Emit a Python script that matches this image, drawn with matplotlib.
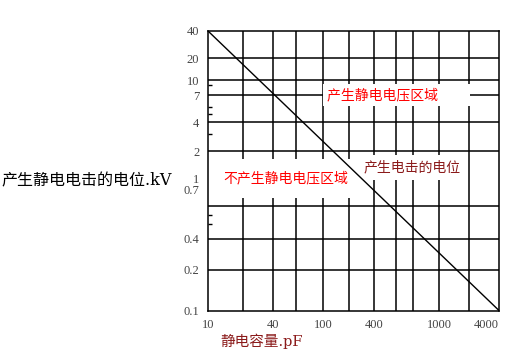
import numpy as np
import matplotlib
matplotlib.use('Agg')
import matplotlib.pyplot as plt
from matplotlib.ticker import FixedLocator, FixedFormatter, NullFormatter

# boundary line: capacitance (pF) vs. electrostatic shock potential (kV)
capacitance = [10, 6000]
voltage = [40, 0.1]

x_ticks = [10, 40, 100, 400, 1000, 4000]
x_tick_labels = ['10', '40', '100', '400', '1000', '4000']
x_grid = [20, 40, 60, 100, 200, 400, 600, 800, 1000, 2000]

y_ticks = [0.1, 0.2, 0.4, 0.7, 1, 2, 4, 7, 10, 20, 40]
y_tick_labels = ['0.1', '0.2', '0.4', '0.7', '1', '2', '4', '7', '10', '20', '40']
y_grid = [0.2, 0.4, 0.6, 2, 4, 7, 10, 20]
y_minor = [0.45, 0.5, 0.7, 1, 3, 4.5, 5.5, 9]

# the printed chart's axes are hand-ruled, not a true log scale:
# knots (value -> pixel in the original) define a piecewise log scale
x_knots = [10, 20, 40, 60, 100, 200, 400, 600, 800, 1000, 2000, 4000, 6000]
x_knot_px = [207.7, 243.3, 273.3, 295.7, 323.3, 349.3, 374, 395.7, 413.3,
             439.3, 469.3, 486, 499]
y_knots = [0.1, 0.2, 0.4, 0.45, 0.5, 0.6, 0.7, 1, 2, 3, 4, 4.5, 5.5, 7, 9,
           10, 20, 40]
y_knot_px = [310.5, 270, 238.5, 224.3, 214.7, 205.7, 190, 178.3, 151, 134,
             122.3, 114.3, 107.3, 95.3, 85.3, 80.3, 58.3, 30.7]

xk = np.log10(x_knots)
xf = (np.array(x_knot_px) - 207.7) / (499 - 207.7)
yk = np.log10(y_knots)
yf = (310.5 - np.array(y_knot_px)) / (310.5 - 30.7)


def x_fwd(v):
    return np.interp(np.log10(np.clip(v, 1e-9, None)), xk, xf)


def x_inv(f):
    return 10 ** np.interp(f, xf, xk)


def y_fwd(v):
    return np.interp(np.log10(np.clip(v, 1e-9, None)), yk, yf)


def y_inv(f):
    return 10 ** np.interp(f, yf, yk)


cjk = ['Noto Sans CJK SC', 'DejaVu Sans']
mixed = ['DejaVu Serif', 'Noto Sans CJK SC']

fig = plt.figure(figsize=(5.25, 3.56), dpi=100)
ax = fig.add_axes([207.7 / 525, 1 - 310.5 / 356,
                   (499 - 207.7) / 525, (310.5 - 30.7) / 356])
ax.set_xscale('function', functions=(x_fwd, x_inv))
ax.set_yscale('function', functions=(y_fwd, y_inv))
ax.set_xlim(10, 6000)
ax.set_ylim(0.1, 40)

# grid
ax.vlines(x_grid, 0.1, 40, colors='black', linewidth=1.1, zorder=1)
ax.hlines(y_grid, 10, 6000, colors='black', linewidth=1.1, zorder=1)
for s in ax.spines.values():
    s.set_linewidth(1.1)

ax.plot(capacitance, voltage, color='black', linewidth=1.0, zorder=5)

ax.xaxis.set_major_locator(FixedLocator(x_ticks))
ax.xaxis.set_major_formatter(FixedFormatter(x_tick_labels))
ax.xaxis.set_minor_locator(FixedLocator([]))
ax.yaxis.set_major_locator(FixedLocator(y_ticks))
ax.yaxis.set_major_formatter(FixedFormatter(y_tick_labels))
ax.yaxis.set_minor_locator(FixedLocator(y_minor))
ax.yaxis.set_minor_formatter(NullFormatter())
ax.tick_params(axis='both', which='major', length=0, pad=6,
               labelsize=9, labelcolor='#444444')
ax.tick_params(axis='y', which='minor', direction='in', length=3,
               width=1.0, color='black')
for lab in ax.get_xticklabels() + ax.get_yticklabels():
    lab.set_fontfamily('Liberation Serif')

# region labels (white boxes hide the grid behind them)
ax.text(0.4085, 0.770, '产生静电电压区域\u3000\u3000', transform=ax.transAxes,
        ha='left', va='center', fontsize=10, color='#ff0000', family=cjk,
        zorder=3, bbox=dict(boxstyle='square,pad=0.3', fc='white', ec='none'))
ax.text(0.534, 0.51, '产生电击的电位', transform=ax.transAxes,
        ha='left', va='center', fontsize=10, color='#8b1a1a', family=cjk,
        zorder=3, bbox=dict(boxstyle='square,pad=0.4', fc='white', ec='none'))
ax.text(0.0536, 0.472, '不产生静电电压区域', transform=ax.transAxes,
        ha='left', va='center', fontsize=10, color='#ff0000', family=cjk,
        zorder=3, bbox=dict(boxstyle='square,pad=0.9', fc='white', ec='none'))

fig.text(0.003, 1 - 181 / 356, '产生静电电击的电位.kV', ha='left', va='center',
         fontsize=11.5, color='black', family=mixed)
fig.text(220 / 525, 1 - 341 / 356, '静电容量.pF', ha='left', va='center',
         fontsize=10.5, color='#8b1a1a', family=mixed)

fig.savefig('out.png', dpi=100)
